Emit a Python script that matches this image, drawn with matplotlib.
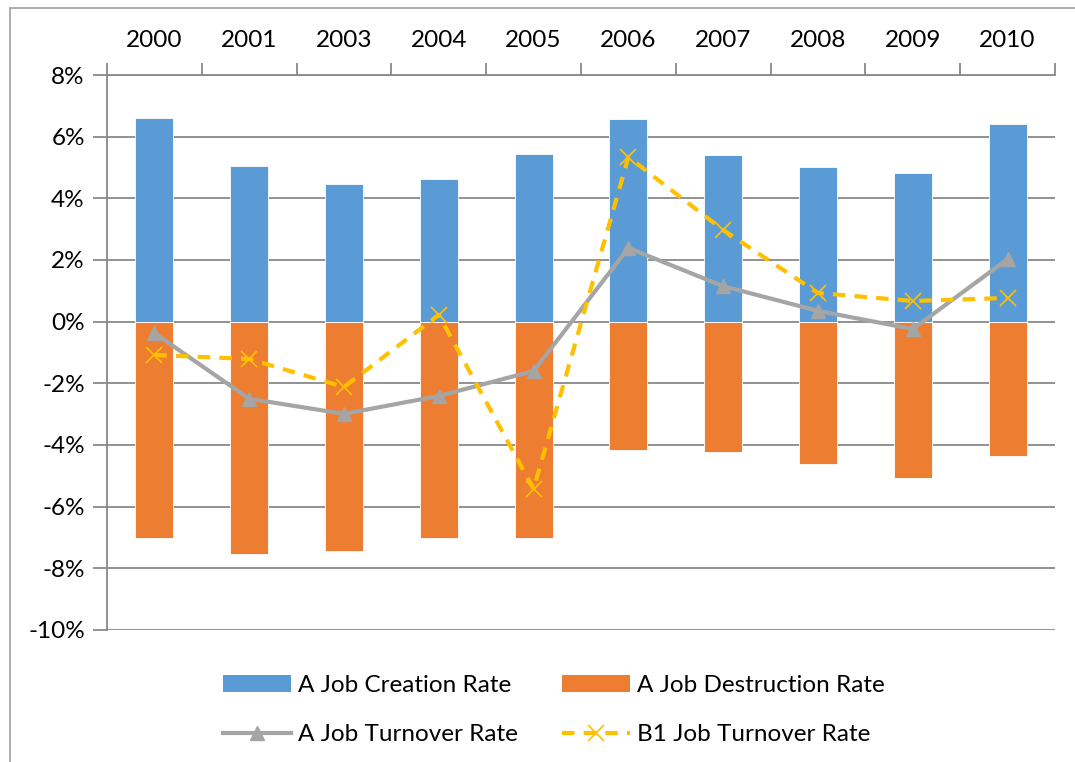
import numpy as np
import matplotlib.pyplot as plt
from matplotlib.lines import Line2D
from matplotlib.patches import Patch
from matplotlib.ticker import FuncFormatter, MultipleLocator

plt.rcParams['font.family'] = ['Lato', 'DejaVu Sans']

years = ['2000', '2001', '2003', '2004', '2005', '2006', '2007', '2008', '2009', '2010']
creation = [6.61, 5.05, 4.46, 4.63, 5.44, 6.57, 5.41, 5.02, 4.82, 6.41]
destruction = [-7.02, -7.52, -7.44, -7.02, -7.02, -4.15, -4.22, -4.63, -5.07, -4.37]
turnover_a = [-0.37, -2.50, -2.99, -2.41, -1.60, 2.39, 1.15, 0.35, -0.24, 2.03]
turnover_b1 = [-1.08, -1.21, -2.12, 0.22, -5.43, 5.34, 2.97, 0.93, 0.67, 0.77]

blue = '#5B9BD5'
orange = '#ED7D31'
grey = '#A5A5A5'
gold = '#FFC000'
axis_grey = '#898989'

fig = plt.figure(figsize=(10.75, 7.62), dpi=100)
ax = fig.add_axes([107 / 1075, 1 - 630 / 762, (1055 - 107) / 1075, (630 - 75) / 762])

x = np.arange(len(years))
ax.bar(x, creation, width=0.4, color=blue, edgecolor='white', linewidth=0.6, zorder=2)
ax.bar(x, destruction, width=0.4, color=orange, edgecolor='white', linewidth=0.6, zorder=2)
ax.plot(x, turnover_a, color=grey, linewidth=3, marker='^', markersize=10, zorder=3)
ax.plot(x, turnover_b1, color=gold, linewidth=3, dashes=(3, 2.2), marker='x',
        markersize=11, markeredgewidth=1.2, zorder=4)

ax.set_xlim(-0.5, len(years) - 0.5)
ax.set_ylim(-10, 8)
ax.yaxis.set_major_locator(MultipleLocator(2))
ax.yaxis.set_major_formatter(FuncFormatter(lambda v, p: f'{v:.0f}%'))
ax.grid(axis='y', color=axis_grey, linewidth=1.3, zorder=0)
ax.set_axisbelow(True)

# category labels along the top, ticks on the boundaries between years
ax.xaxis.tick_top()
ax.set_xticks(x)
ax.set_xticklabels(years)
ax.set_xticks(np.arange(-0.5, len(years)), minor=True)
ax.tick_params(axis='x', which='major', length=0, pad=17, labelsize=17.5)
ax.tick_params(axis='x', which='minor', length=9, width=1.3, color=axis_grey, direction='out')
ax.tick_params(axis='y', length=10, width=1.3, color=axis_grey, labelsize=17.5, pad=6)

for side in ['right', 'bottom']:
    ax.spines[side].set_visible(False)
for side in ['left', 'top']:
    ax.spines[side].set_color(axis_grey)
    ax.spines[side].set_linewidth(1.3)

handles = [
    Patch(facecolor=blue),
    Line2D([], [], color=grey, linewidth=3, marker='^', markersize=10),
    Patch(facecolor=orange),
    Line2D([], [], color=gold, linewidth=3, dashes=(3, 2.2), marker='x',
           markersize=11, markeredgewidth=1.2),
]
labels = ['A Job Creation Rate', 'A Job Turnover Rate',
          'A Job Destruction Rate', 'B1 Job Turnover Rate']
fig.legend(handles, labels, ncol=2, loc='center', bbox_to_anchor=(554 / 1075, 1 - 710 / 762),
           frameon=False, fontsize=17.5, handlelength=2.8, handleheight=0.65,
           columnspacing=1.8, labelspacing=1.15, handletextpad=0.3)

# outer chart frame (only top and left edges show)
fig.add_artist(Line2D([10 / 1075, 1], [1 - 8 / 762, 1 - 8 / 762], color='#A0A0A0', linewidth=1.2))
fig.add_artist(Line2D([10 / 1075, 10 / 1075], [0, 1 - 8 / 762], color='#A0A0A0', linewidth=1.2))

fig.savefig('out.png', dpi=100)
